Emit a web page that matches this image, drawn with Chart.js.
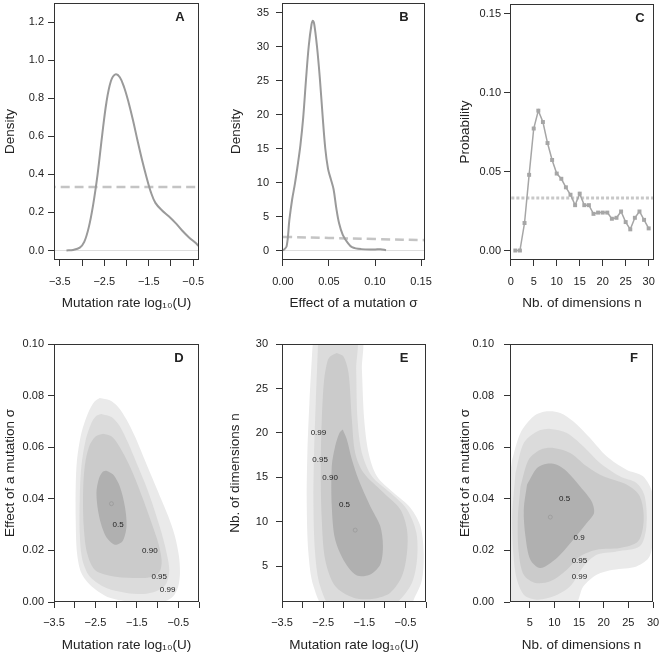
<!DOCTYPE html>
<html>
<head>
<meta charset="utf-8">
<script src="https://cdn.jsdelivr.net/npm/chart.js@4.4.1/dist/chart.umd.min.js"></script>
<style>
  html, body { margin: 0; padding: 0; background: #fff; }
  #fig { position: relative; width: 661px; height: 656px; }
  #fig canvas { position: absolute; }
</style>
</head>
<body>
<div id="fig">
  <canvas id="pA" width="220" height="320" style="left:0;top:0"></canvas>
  <canvas id="pB" width="220" height="320" style="left:220px;top:0"></canvas>
  <canvas id="pC" width="221" height="320" style="left:440px;top:0"></canvas>
  <canvas id="pD" width="220" height="336" style="left:0;top:320px"></canvas>
  <canvas id="pE" width="220" height="336" style="left:220px;top:320px"></canvas>
  <canvas id="pF" width="221" height="336" style="left:440px;top:320px"></canvas>
</div>
<script>
// ---- A: posterior density of log10(U)
const densUx = [-3.35, -3.2, -3.05, -2.95, -2.85, -2.75, -2.65, -2.55, -2.45, -2.35, -2.25, -2.15, -2.05, -1.95,
  -1.85, -1.75, -1.65, -1.55, -1.45, -1.35, -1.2, -1.05, -0.9, -0.75, -0.6, -0.45, -0.37, -0.3];
const densUy = [0, 0.003, 0.015, 0.045, 0.12, 0.24, 0.40, 0.60, 0.78, 0.89, 0.925, 0.91, 0.855, 0.775,
  0.68, 0.575, 0.475, 0.385, 0.305, 0.25, 0.21, 0.18, 0.145, 0.105, 0.07, 0.04, 0.023, 0.012];
const priorUx = [-3.8, -0.2];
const priorUy = [0.3333, 0.3333];

// ---- B: posterior density of sigma
const densSx = [0, 0.004, 0.007, 0.010, 0.013, 0.016, 0.019, 0.022, 0.025, 0.028, 0.031, 0.0325, 0.034, 0.037,
  0.040, 0.043, 0.046, 0.049, 0.052, 0.055, 0.058, 0.061, 0.065, 0.070, 0.075, 0.085, 0.100, 0.106, 0.112];
const densSy = [0, 0.6, 4.5, 7.5, 9.8, 12.5, 15.5, 19.5, 25, 30, 33.2, 33.8, 33.3, 30,
  25.5, 20, 15, 12, 10.5, 9, 6.2, 4, 2.3, 1.2, 0.5, 0.2, 0.15, 0.18, 0.05];
const priorSx = [0, 0.05, 0.1, 0.16];
const priorSy = [2.0, 1.84, 1.68, 1.5];

// ---- C: posterior probability of n
const dims = [1, 2, 3, 4, 5, 6, 7, 8, 9, 10, 11, 12, 13, 14, 15, 16, 17, 18, 19, 20, 21, 22, 23, 24, 25, 26, 27, 28, 29, 30];
const probN = [0, 0, 0.0174, 0.0479, 0.0772, 0.0885, 0.0813, 0.068, 0.0573, 0.0487, 0.0454, 0.040, 0.0353, 0.0287, 0.036,
  0.0287, 0.0287, 0.0232, 0.024, 0.024, 0.024, 0.0201, 0.0207, 0.0247, 0.018, 0.0134, 0.0207, 0.0247, 0.0194, 0.014];
const priorNx = [-1, 32];
const priorNy = [0.0333, 0.0333];

// ---- D: joint HPD regions, log10(U) vs sigma
const contD99 = [[-2.395, 0.0791], [-2.153, 0.0782], [-1.952, 0.0756], [-1.75, 0.0707], [-1.548, 0.0642], [-1.347, 0.0565],
  [-1.145, 0.0487], [-0.944, 0.041], [-0.742, 0.0332], [-0.581, 0.0255], [-0.484, 0.0177], [-0.46, 0.0112], [-0.5, 0.0061],
  [-0.621, 0.0022], [-0.823, 0.0003], [-1.589, 0], [-2.153, 0.0016], [-2.597, 0.0061], [-2.839, 0.0112], [-2.944, 0.019],
  [-2.976, 0.0319], [-2.976, 0.0448], [-2.944, 0.0552], [-2.839, 0.0655], [-2.677, 0.0733], [-2.516, 0.0778], [-2.395, 0.0791]];
const contD95 = [[-2.355, 0.0729], [-2.113, 0.0717], [-1.911, 0.0681], [-1.71, 0.0616], [-1.508, 0.0539], [-1.306, 0.0461],
  [-1.105, 0.0371], [-0.903, 0.0267], [-0.782, 0.019], [-0.718, 0.0125], [-0.782, 0.0074], [-0.944, 0.0048], [-1.266, 0.0032],
  [-1.75, 0.0035], [-2.234, 0.0054], [-2.637, 0.0099], [-2.815, 0.0164], [-2.879, 0.0267], [-2.879, 0.0397], [-2.839, 0.0526],
  [-2.734, 0.0629], [-2.597, 0.0694], [-2.476, 0.0722], [-2.355, 0.0729]];
const contD90 = [[-2.315, 0.0652], [-2.113, 0.0642], [-1.952, 0.061], [-1.75, 0.0552], [-1.548, 0.0481], [-1.347, 0.0397],
  [-1.145, 0.0306], [-0.984, 0.0229], [-0.903, 0.0164], [-0.944, 0.0119], [-1.145, 0.0097], [-1.589, 0.0093], [-2.153, 0.0102],
  [-2.516, 0.0125], [-2.702, 0.019], [-2.782, 0.0293], [-2.798, 0.0422], [-2.758, 0.0526], [-2.653, 0.0603], [-2.492, 0.0642],
  [-2.315, 0.0652]];
const contD50 = [[-2.234, 0.0509], [-2.073, 0.0494], [-1.911, 0.0448], [-1.79, 0.0371], [-1.75, 0.0293], [-1.847, 0.0235],
  [-2.032, 0.0222], [-2.25, 0.0255], [-2.411, 0.0332], [-2.476, 0.0422], [-2.411, 0.0481], [-2.315, 0.0506], [-2.234, 0.0509]];
const modeD = [[-2.113, 0.0381]];
const levelNamesD = ['0.5', '0.90', '0.95', '0.99'];
const levelPosD = [[-1.952, 0.030], [-1.185, 0.020], [-0.96, 0.0097], [-0.758, 0.0048]];

// ---- E: joint HPD regions, log10(U) vs n
const contE99 = [[-2.736, 31.2], [-1.599, 31.2], [-1.558, 27.1], [-1.502, 21.5], [-1.396, 17.76], [-1.193, 15.14], [-0.787, 13.27],
  [-0.381, 11.6], [-0.137, 9.53], [-0.056, 6.53], [-0.096, 3.54], [-0.259, 1.67], [-0.462, 0.17], [-2.411, 0.17],
  [-2.736, 2.79], [-2.858, 6.53], [-2.899, 12.15], [-2.883, 17.76], [-2.834, 23.38], [-2.777, 28.24], [-2.736, 31.2]];
const contE95 = [[-2.615, 31.2], [-1.721, 31.2], [-1.697, 27.1], [-1.664, 21.5], [-1.558, 17.76], [-1.315, 15.14], [-0.868, 13.27],
  [-0.462, 11.4], [-0.234, 8.78], [-0.218, 5.79], [-0.34, 3.17], [-0.624, 1.3], [-0.949, 0.17], [-2.249, 0.17],
  [-2.574, 2.79], [-2.696, 6.53], [-2.736, 12.15], [-2.72, 17.76], [-2.68, 23.38], [-2.639, 28.24], [-2.615, 31.2]];
const contE90 = [[-2.168, 28.99], [-2.005, 28.6], [-1.883, 26.74], [-1.802, 21.5], [-1.721, 17.76], [-1.518, 15.52], [-1.03, 13.27],
  [-0.624, 11.4], [-0.462, 9.15], [-0.462, 6.53], [-0.584, 3.91], [-0.868, 2.04], [-1.274, 1.37], [-1.762, 1.48],
  [-2.208, 2.79], [-2.452, 5.79], [-2.533, 10.28], [-2.558, 15.89], [-2.533, 21.5], [-2.476, 26.0], [-2.395, 28.05],
  [-2.33, 28.6], [-2.168, 28.99]];
const contE50 = [[-2.022, 20.38], [-1.924, 19.26], [-1.802, 17.01], [-1.64, 14.77], [-1.355, 11.77], [-1.112, 9.53], [-1.047, 7.28],
  [-1.112, 5.22], [-1.355, 4.1], [-1.68, 3.99], [-1.965, 5.41], [-2.208, 8.03], [-2.29, 11.77], [-2.29, 16.27],
  [-2.208, 18.51], [-2.103, 20.01], [-2.022, 20.38]];
const modeE = [[-1.721, 9.08]];
const levelNamesE = ['0.99', '0.95', '0.90', '0.5'];
const levelPosE = [[-2.615, 20.0], [-2.574, 17.01], [-2.33, 14.96], [-1.981, 11.96]];

// ---- F: joint HPD regions, n vs sigma
const contF99 = [[1.44, 0.0552], [3.12, 0.0655], [5.81, 0.072], [8.49, 0.0739], [11.18, 0.0733], [13.87, 0.07], [17.23, 0.0636],
  [20.59, 0.0565], [24.62, 0.0513], [27.98, 0.0487], [29.87, 0.0422], [30.13, 0.0293], [29.33, 0.0177], [26.64, 0.0138],
  [21.94, 0.0125], [18.58, 0.0106], [15.89, 0.0061], [13.87, -0.0017], [0.77, -0.0017], [0.77, 0.0448], [1.44, 0.0552]];
const contF95 = [[2.11, 0.05], [3.79, 0.0616], [6.48, 0.0661], [9.17, 0.0671], [12.53, 0.0655], [15.89, 0.0603], [19.25, 0.0539],
  [23.28, 0.0487], [26.64, 0.0461], [28.32, 0.041], [28.66, 0.0293], [27.31, 0.0216], [22.61, 0.0196], [18.58, 0.0183],
  [15.89, 0.0138], [13.2, 0.0061], [9.84, 0.0022], [6.48, 0.0009], [3.79, 0.0028], [2.11, 0.0112], [1.44, 0.0319], [2.11, 0.05]];
const contF90 = [[3.12, 0.0448], [4.8, 0.0552], [7.15, 0.059], [9.84, 0.0597], [13.2, 0.0578], [16.56, 0.0526], [19.92, 0.0487],
  [24.62, 0.0455], [27.31, 0.041], [28.12, 0.0319], [26.98, 0.0235], [23.28, 0.0209], [18.58, 0.0203], [15.22, 0.0177],
  [12.53, 0.0125], [9.17, 0.008], [6.14, 0.0074], [3.79, 0.0106], [2.78, 0.019], [2.58, 0.0319], [3.12, 0.0448]];
const contF50 = [[4.46, 0.0455], [6.48, 0.0519], [8.49, 0.0536], [10.51, 0.0532], [12.53, 0.0506], [15.22, 0.0448], [17.57, 0.039],
  [18.04, 0.0345], [16.56, 0.0306], [13.87, 0.0242], [10.51, 0.0171], [7.15, 0.0132], [5.13, 0.0164], [4.13, 0.0255],
  [3.79, 0.0358], [4.46, 0.0455]];
const modeF = [[9.17, 0.0329]];
const levelNamesF = ['0.5', '0.9', '0.95', '0.99'];
const levelPosF = [[12.06, 0.0399], [15.01, 0.0248], [15.08, 0.016], [15.08, 0.0099]];

// ---- axis ticks
const ticksLogU = [-3.5, -3, -2.5, -2, -1.5, -1, -0.5];
const ticksLogUFull = [-3.5, -3, -2.5, -2, -1.5, -1, -0.5, 0];
const labelsLogU = [-3.5, -2.5, -1.5, -0.5];
const ticksDensU = [0, 0.2, 0.4, 0.6, 0.8, 1.0, 1.2];
const ticksSigma = [0, 0.05, 0.1, 0.15];
const ticksDensS = [0, 5, 10, 15, 20, 25, 30, 35];
const ticksDims = [0, 5, 10, 15, 20, 25, 30];
const ticksDims5 = [5, 10, 15, 20, 25, 30];
const ticksProb = [0, 0.05, 0.1, 0.15];
const ticksSigma2 = [0, 0.02, 0.04, 0.06, 0.08, 0.1];

const FONT = "'Liberation Sans', Arial, sans-serif";
Chart.defaults.font.family = FONT;
Chart.defaults.color = '#222';

const greys = ['#b0b0b0', '#cbcbcb', '#dbdbdb', '#eaeaea'];

const pts = (xs, ys) => xs.map((x, i) => ({x: x, y: ys[i]}));
const pairs = arr => arr.map(p => ({x: p[0], y: p[1]}));

function curve(data, color, width, dash) {
  return { data: data, showLine: true, borderColor: color, borderWidth: width, borderDash: dash || [],
    pointRadius: 0, tension: 0.35, fill: false };
}
function region(data, color) {
  return { data: pairs(data), showLine: true, borderColor: 'rgba(0,0,0,0)', borderWidth: 0,
    backgroundColor: color, pointRadius: 0, tension: 0.3, fill: 'shape' };
}
function modeMark(data) {
  return { data: pairs(data), showLine: false, pointRadius: 2, pointStyle: 'circle',
    pointBackgroundColor: 'rgba(0,0,0,0)', pointBorderColor: '#999', pointBorderWidth: 0.8 };
}

function fmt(v, dec) { return v.toFixed(dec).replace('-', '\u2212'); }

function axis(kind, a, size) {
  const labels = a.labels || a.ticks;
  return {
    type: 'linear', min: a.min, max: a.max,
    afterFit: s => {
      if (kind === 'x') s.height = size; else s.width = size;
      s.paddingTop = 0; s.paddingBottom = 0; s.paddingLeft = 0; s.paddingRight = 0;
    },
    afterBuildTicks: s => { s.ticks = a.ticks.map(v => ({value: v})); },
    ticks: { autoSkip: false, maxRotation: 0, padding: a.pad, font: {size: 11}, color: '#222',
      callback: v => labels.includes(v) ? fmt(v, a.dec) : '' },
    grid: { drawOnChartArea: !!a.zeroLine, drawTicks: true, tickLength: 6, tickColor: '#333', tickWidth: 1,
      color: c => (a.zeroLine && c.tick && c.tick.value === 0) ? '#dedede' : 'rgba(0,0,0,0)' },
    border: { display: false },
    title: { display: true, text: a.title, color: '#222', font: {size: 13.5},
      padding: kind === 'x' ? {top: 0, bottom: a.tpad} : {top: a.tpad, bottom: 0} }
  };
}

function decor(p) {
  return {
    id: 'decor',
    afterDatasetsDraw(chart) {
      const {ctx, chartArea: a, scales} = chart;
      ctx.save();
      ctx.fillStyle = '#222';
      ctx.textAlign = 'center';
      ctx.textBaseline = 'middle';
      if (p.levelNames) {
        ctx.font = '8px ' + FONT;
        p.levelNames.forEach((t, i) => {
          ctx.fillText(t, scales.x.getPixelForValue(p.levelPos[i][0]), scales.y.getPixelForValue(p.levelPos[i][1]));
        });
      }
      ctx.strokeStyle = '#333';
      ctx.lineWidth = 1;
      ctx.strokeRect(Math.round(a.left) + 0.5, Math.round(a.top) + 0.5, Math.round(a.width) - 1, Math.round(a.height) - 1);
      ctx.font = 'bold 13px ' + FONT;
      ctx.fillText(p.letter, a.right - p.letterDx, a.top + 14);
      ctx.restore();
    }
  };
}

function panel(id, p) {
  const b = p.box;
  new Chart(document.getElementById(id), {
    type: 'scatter',
    data: { datasets: p.datasets },
    options: {
      responsive: false,
      animation: false,
      layout: { padding: { top: b.top, right: b.w - b.right, left: 0, bottom: 0 } },
      plugins: { legend: { display: false }, tooltip: { enabled: false } },
      elements: { line: { capBezierPoints: false } },
      scales: { x: axis('x', p.x, b.h - b.bottom), y: axis('y', p.y, b.left) }
    },
    plugins: [decor(p)]
  });
}

const tU = 'Mutation rate log\u2081\u2080(U)';
const tS = 'Effect of a mutation \u03c3';
const tN = 'Nb. of dimensions n';

panel('pA', {
  box: {w: 220, h: 320, left: 54, right: 199, top: 3, bottom: 260}, letter: 'A', letterDx: 19,
  x: {min: -3.63, max: -0.37, ticks: ticksLogU, labels: labelsLogU, dec: 1, pad: 9, tpad: 9, title: tU},
  y: {min: -0.05, max: 1.30, ticks: ticksDensU, dec: 1, pad: 4, tpad: 2, title: 'Density', zeroLine: true},
  datasets: [curve(pts(densUx, densUy), '#9a9a9a', 2), curve(pts(priorUx, priorUy), '#c4c4c4', 2.5, [9, 5])]
});

panel('pB', {
  box: {w: 220, h: 320, left: 62, right: 205, top: 3, bottom: 260}, letter: 'B', letterDx: 21,
  x: {min: -0.001, max: 0.1543, ticks: ticksSigma, dec: 2, pad: 9, tpad: 9, title: tS},
  y: {min: -1.4, max: 36.4, ticks: ticksDensS, dec: 0, pad: 7, tpad: 8.6, title: 'Density', zeroLine: true},
  datasets: [curve(pts(densSx, densSy), '#9a9a9a', 2), curve(pts(priorSx, priorSy), '#c4c4c4', 2.5, [9, 5])]
});

panel('pC', {
  box: {w: 221, h: 320, left: 70, right: 214, top: 3, bottom: 260}, letter: 'C', letterDx: 14,
  x: {min: -0.16, max: 31.16, ticks: ticksDims, dec: 0, pad: 9, tpad: 9, title: tN},
  y: {min: -0.006, max: 0.156, ticks: ticksProb, dec: 2, pad: 3, tpad: 17, title: 'Probability'},
  datasets: [
    { data: pts(dims, probN), showLine: true, borderColor: '#a6a6a6', borderWidth: 1.5, tension: 0,
      pointStyle: 'rect', pointRadius: 2.8, pointBackgroundColor: '#a6a6a6', pointBorderWidth: 0 },
    curve(pts(priorNx, priorNy), '#c8c8c8', 3, [3, 2])
  ]
});

panel('pD', {
  box: {w: 220, h: 336, left: 54, right: 199, top: 24, bottom: 282}, letter: 'D', letterDx: 20,
  x: {min: -3.5, max: 0, ticks: ticksLogUFull, labels: labelsLogU, dec: 1, pad: 8, tpad: 3, title: tU},
  y: {min: 0, max: 0.1, ticks: ticksSigma2, dec: 2, pad: 4, tpad: 2, title: tS},
  levelNames: levelNamesD, levelPos: levelPosD,
  datasets: [modeMark(modeD), region(contD50, greys[0]), region(contD90, greys[1]), region(contD95, greys[2]), region(contD99, greys[3])]
});

panel('pE', {
  box: {w: 220, h: 336, left: 62, right: 206, top: 24, bottom: 282}, letter: 'E', letterDx: 22,
  x: {min: -3.5, max: 0, ticks: ticksLogUFull, labels: labelsLogU, dec: 1, pad: 8, tpad: 3, title: tU},
  y: {min: 1, max: 30, ticks: ticksDims5, dec: 0, pad: 8, tpad: 7, title: tN},
  levelNames: levelNamesE, levelPos: levelPosE,
  datasets: [modeMark(modeE), region(contE50, greys[0]), region(contE90, greys[1]), region(contE95, greys[2]), region(contE99, greys[3])]
});

panel('pF', {
  box: {w: 221, h: 336, left: 70, right: 213, top: 24, bottom: 282}, letter: 'F', letterDx: 19,
  x: {min: 1, max: 30, ticks: ticksDims5, dec: 0, pad: 8, tpad: 3, title: tN},
  y: {min: 0, max: 0.1, ticks: ticksSigma2, dec: 2, pad: 10, tpad: 17, title: tS},
  levelNames: levelNamesF, levelPos: levelPosF,
  datasets: [modeMark(modeF), region(contF50, greys[0]), region(contF90, greys[1]), region(contF95, greys[2]), region(contF99, greys[3])]
});
</script>
</body>
</html>
